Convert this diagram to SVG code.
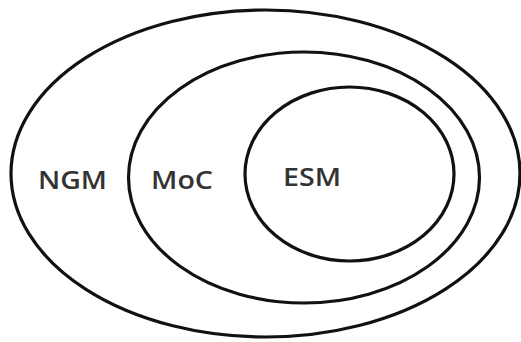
<svg xmlns="http://www.w3.org/2000/svg" width="521" height="342" viewBox="0 0 521 342">
<style>
.e{fill:none;stroke:#111;stroke-width:3.2}
.t{font-family:"Open Sans",sans-serif;font-size:25px;font-weight:600;fill:#333}
</style>
<rect width="521" height="342" fill="#fff"/>
<g id="ngm"><ellipse class="e" cx="265.5" cy="173.5" rx="254.5" ry="163.5"/><text class="t" x="38" y="189" textLength="69" lengthAdjust="spacingAndGlyphs">NGM</text></g>
<g id="moc"><ellipse class="e" cx="304" cy="177.5" rx="175.5" ry="125.5"/><text class="t" x="151" y="189" textLength="62" lengthAdjust="spacingAndGlyphs">MoC</text></g>
<g id="esm"><ellipse class="e" cx="349.5" cy="174" rx="104.5" ry="87"/><text class="t" x="283" y="186" textLength="58" lengthAdjust="spacingAndGlyphs">ESM</text></g>
<g id="connectors"/>
</svg>
